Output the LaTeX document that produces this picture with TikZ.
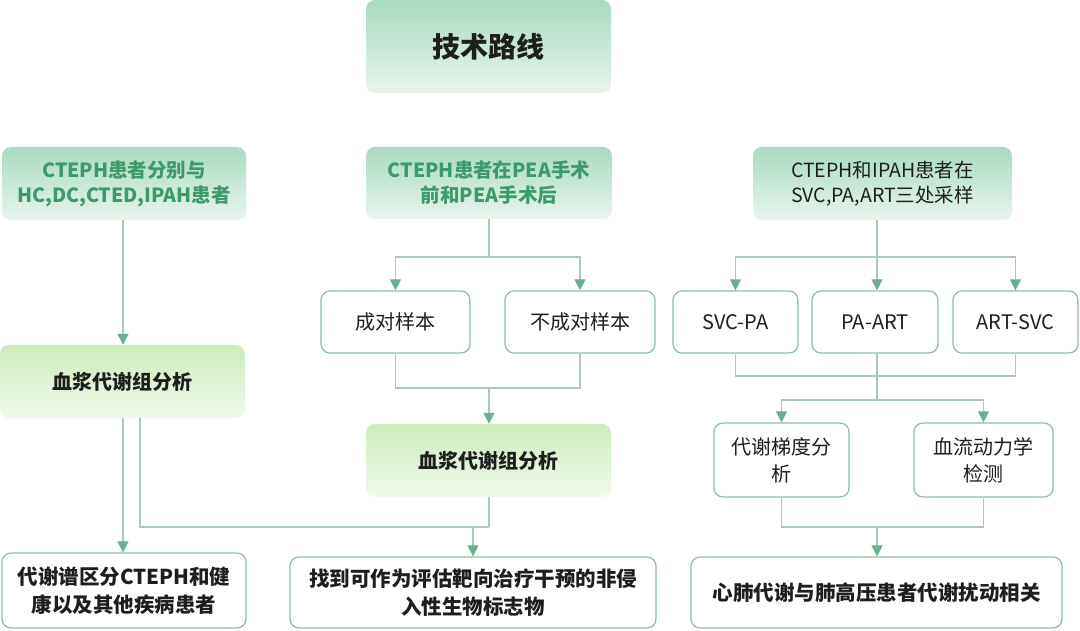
\documentclass[tikz,border=0pt]{standalone}
\usepackage{fontspec}
\setmainfont{Noto Sans CJK SC}
\usetikzlibrary{arrows.meta}
\definecolor{lineC}{HTML}{A9C9BA}
\definecolor{headC}{HTML}{6CAF8E}
\definecolor{borderC}{HTML}{8DBDA6}
\definecolor{topG}{HTML}{A8DBBF}
\definecolor{botG}{HTML}{E8F5EE}
\definecolor{topY}{HTML}{CBEDBB}
\definecolor{botY}{HTML}{F1F9EC}
\definecolor{txtG}{HTML}{3E9A6A}
\definecolor{txtK}{HTML}{1E1E1E}
\tikzset{
  gbox/.style={rectangle, rounded corners=9pt, top color=topG, bottom color=botG, draw=none, align=center, inner sep=0pt},
  ybox/.style={rectangle, rounded corners=9pt, top color=topY, bottom color=botY, draw=none, align=center, inner sep=0pt, font=\fontsize{20}{26}\selectfont\bfseries, text=txtK},
  wbox/.style={rectangle, rounded corners=9pt, draw=borderC, line width=1.2pt, fill=white, align=center, inner sep=0pt, text=txtK},
  ln/.style={draw=lineC, line width=1.1pt},
  arr/.style={draw=lineC, line width=1.1pt, -{Triangle[width=11pt,length=11pt,fill=headC,color=headC]}},
}
\begin{document}
\begin{tikzpicture}[x=1pt,y=-1pt]
\useasboundingbox (0,0) rectangle (1080,631);
% title
\node[gbox, minimum width=245pt, minimum height=93pt, font=\fontsize{28}{32}\selectfont\bfseries, text=txtK] (title) at (488.5,46.5) {技术路线};
% row 1
\node[gbox, minimum width=244pt, minimum height=73pt, font=\fontsize{19.5}{25}\selectfont\bfseries, text=txtG] (a1) at (124,183.5) {CTEPH患者分别与\\HC,DC,CTED,IPAH患者};
\node[gbox, minimum width=246pt, minimum height=72pt, font=\fontsize{19.5}{25}\selectfont\bfseries, text=txtG] (b1) at (489,183) {CTEPH患者在PEA手术\\前和PEA手术后};
\node[gbox, minimum width=259pt, minimum height=73pt, font=\fontsize{19.5}{25}\selectfont, text=txtK] (c1) at (882.5,183.5) {CTEPH和IPAH患者在\\SVC,PA,ART三处采样};
% middle boxes
\node[wbox, minimum width=149pt, minimum height=62pt, font=\fontsize{20}{26}\selectfont] (b2) at (395.5,322) {成对样本};
\node[wbox, minimum width=150pt, minimum height=62pt, font=\fontsize{20}{26}\selectfont] (b3) at (580,322) {不成对样本};
\node[wbox, minimum width=125pt, minimum height=62pt, font=\fontsize{20}{26}\selectfont] (c2) at (735.5,322) {SVC-PA};
\node[wbox, minimum width=126pt, minimum height=62pt, font=\fontsize{20}{26}\selectfont] (c3) at (875,322) {PA-ART};
\node[wbox, minimum width=125pt, minimum height=62pt, font=\fontsize{20}{26}\selectfont] (c4) at (1015.5,322) {ART-SVC};
\node[ybox, minimum width=245pt, minimum height=73pt] (a2) at (122.5,381.5) {血浆代谢组分析};
\node[ybox, minimum width=245pt, minimum height=73pt] (b4) at (488.5,460.5) {血浆代谢组分析};
\node[wbox, minimum width=135pt, minimum height=74pt, font=\fontsize{20}{27}\selectfont] (c5) at (781.5,460) {代谢梯度分\\析};
\node[wbox, minimum width=139pt, minimum height=74pt, font=\fontsize{20}{27}\selectfont] (c6) at (983.5,460) {血流动力学\\检测};
% bottom
\node[wbox, minimum width=244pt, minimum height=75pt, font=\fontsize{20.5}{28}\selectfont\bfseries] (a3) at (124,590.5) {代谢谱区分CTEPH和健\\康以及其他疾病患者};
\node[wbox, minimum width=366pt, minimum height=71pt, font=\fontsize{20.5}{28}\selectfont\bfseries] (b5) at (473,592.5) {找到可作为评估靶向治疗干预的非侵\\入性生物标志物};
\node[wbox, minimum width=371pt, minimum height=71pt, font=\fontsize{20.5}{28}\selectfont\bfseries] (c7) at (876.5,592.5) {心肺代谢与肺高压患者代谢扰动相关};
% junction coordinates
\coordinate (jl0) at (123,0);
\coordinate (jb1) at (489,257);
\coordinate (jb2) at (489,388);
\coordinate (jc1) at (877,257);
\coordinate (jc2) at (877,376);
\coordinate (jc3) at (877,400);
\coordinate (jc4) at (877,527);
\coordinate (jl) at (140,527);
\coordinate (jm) at (489,527);
% left column
\draw[arr] (a1.south -| jl0) -- (a2.north -| jl0);
\draw[arr] (a2.south -| jl0) -- (a3.north -| jl0);
% middle column
\draw[ln] (b1.south -| jb1) -- (jb1);
\draw[arr] (jb1) -| (b2.north);
\draw[arr] (jb1) -| (b3.north);
\draw[ln] (b2.south) |- (jb2);
\draw[ln] (b3.south) |- (jb2);
\draw[arr] (jb2) -- (b4.north -| jb2);
\draw[ln] (a2.south -| jl) -- (jl) -- (jm);
\draw[ln] (b4.south -| jm) -- (jm);
\draw[arr] (jm -| b5.north) -- (b5.north);
% right column
\draw[ln] (c1.south -| jc1) -- (jc1);
\draw[arr] (jc1) -| (c2.north);
\draw[arr] (jc1) -- (c3.north -| jc1);
\draw[arr] (jc1) -| (c4.north);
\draw[ln] (c2.south) |- (jc2);
\draw[ln] (c4.south) |- (jc2);
\draw[ln] (c3.south -| jc3) -- (jc3);
\draw[arr] (jc3) -| (c5.north);
\draw[arr] (jc3) -| (c6.north);
\draw[ln] (c5.south) |- (jc4);
\draw[ln] (c6.south) |- (jc4);
\draw[arr] (jc4) -- (c7.north -| jc4);
\end{tikzpicture}
\end{document}
